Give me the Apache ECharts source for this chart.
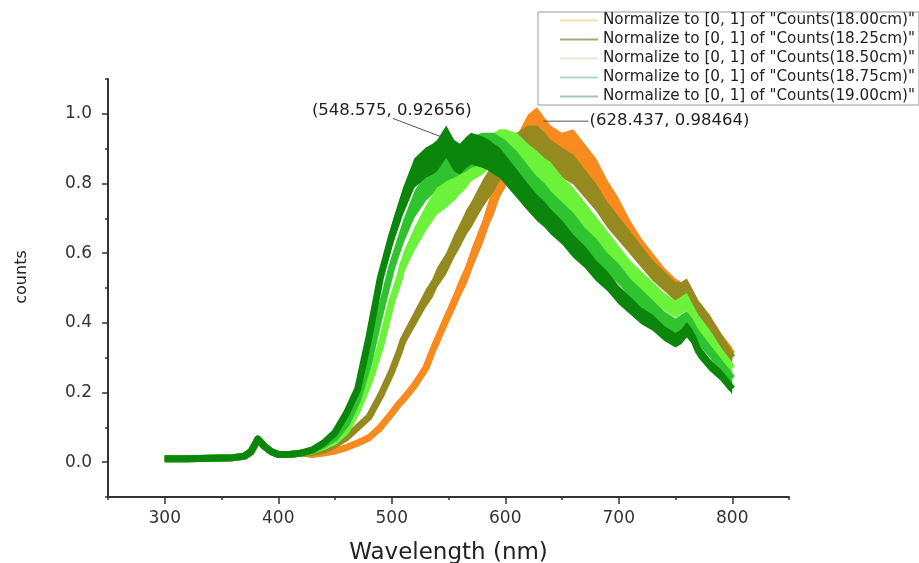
<!DOCTYPE html>
<html>
<head>
<meta charset="utf-8">
<script src="https://cdn.jsdelivr.net/npm/echarts@6.0.0/dist/echarts.min.js"></script>
<style>
html,body{margin:0;padding:0;background:#fff;}
#chart{width:919px;height:563px;}
</style>
</head>
<body>
<div id="chart"></div>
<script>
// ---- data ----
const wavelengths = [300,320,340,360,370,376,382,388,394,400,410,420,430,440,450,460,470,480,490,500,507,510,520,530,536,540,548,555,560,566,570,580,586,590,595,600,610,620,628,635,640,650,660,670,680,690,700,710,720,730,740,750,755,760,765,770,780,790,800];

const counts1800 = [0.010,0.010,0.011,0.013,0.017,0.030,0.066,0.045,0.030,0.022,0.022,0.026,
  0.022,0.026,0.032,0.042,0.055,0.07,0.10,0.14,0.17,0.18,0.22,0.27,0.32,0.35,0.41,0.46,0.50,0.54,0.58,0.66,0.72,0.75,0.80,0.83,0.89,0.95,0.97,0.94,0.92,0.90,0.91,0.87,0.83,0.77,0.72,0.66,0.61,0.57,0.53,0.50,0.49,0.49,0.47,0.44,0.40,0.35,0.31];
const counts1825 = [0.010,0.010,0.011,0.013,0.017,0.030,0.066,0.045,0.030,0.022,0.022,0.026,
  0.028,0.035,0.05,0.07,0.10,0.13,0.19,0.26,0.32,0.35,0.41,0.47,0.50,0.53,0.57,0.62,0.65,0.69,0.71,0.77,0.80,0.82,0.85,0.87,0.90,0.92,0.92,0.90,0.88,0.86,0.84,0.80,0.76,0.71,0.67,0.63,0.59,0.55,0.52,0.49,0.49,0.50,0.47,0.44,0.40,0.35,0.30];
const counts1850 = [0.010,0.010,0.011,0.013,0.017,0.030,0.066,0.045,0.030,0.022,0.022,0.026,
  0.032,0.045,0.06,0.09,0.15,0.23,0.33,0.46,0.53,0.57,0.64,0.70,0.73,0.75,0.77,0.79,0.81,0.83,0.85,0.87,0.89,0.90,0.91,0.91,0.90,0.87,0.85,0.83,0.82,0.78,0.75,0.71,0.67,0.63,0.59,0.55,0.52,0.49,0.46,0.44,0.45,0.46,0.43,0.40,0.36,0.31,0.27];
const counts1875 = [0.010,0.010,0.011,0.013,0.017,0.030,0.066,0.045,0.030,0.022,0.022,0.026,
  0.033,0.05,0.07,0.11,0.18,0.29,0.43,0.56,0.63,0.66,0.74,0.79,0.81,0.83,0.85,0.86,0.87,0.88,0.89,0.90,0.90,0.90,0.89,0.88,0.85,0.81,0.78,0.76,0.74,0.71,0.68,0.64,0.61,0.57,0.54,0.50,0.47,0.44,0.41,0.39,0.40,0.41,0.39,0.36,0.32,0.28,0.24];
const counts1900 = [0.010,0.010,0.011,0.013,0.017,0.030,0.066,0.045,0.030,0.022,0.022,0.026,
  0.035,0.055,0.085,0.14,0.21,0.36,0.53,0.65,0.72,0.75,0.83,0.86,0.87,0.88,0.92,0.88,0.87,0.89,0.90,0.89,0.88,0.87,0.86,0.84,0.80,0.76,0.73,0.71,0.69,0.66,0.62,0.59,0.55,0.52,0.48,0.45,0.42,0.40,0.37,0.35,0.36,0.38,0.36,0.32,0.28,0.25,0.21];

const seriesNames = [
  'Normalize to [0, 1] of "Counts(18.00cm)"',
  'Normalize to [0, 1] of "Counts(18.25cm)"',
  'Normalize to [0, 1] of "Counts(18.50cm)"',
  'Normalize to [0, 1] of "Counts(18.75cm)"',
  'Normalize to [0, 1] of "Counts(19.00cm)"'
];
const seriesValues = [counts1800, counts1825, counts1850, counts1875, counts1900];

const xMajorTicks = [300,400,500,600,700,800];
const xMinorTicks = [250,350,450,550,650,750,850];
const yMajorTicks = [0,0.2,0.4,0.6,0.8,1.0];
const yMinorTicks = [-0.1,0.1,0.3,0.5,0.7,0.9,1.1];

const annotX = [548.575, 628.437];
const annotY = [0.92656, 0.98464];
const annotText = ['(548.575, 0.92656)', '(628.437, 0.98464)'];

// ---- styles ----
const curveColors = ['#f88a1e', '#948a20', '#6cf23a', '#2fc42f', '#0b850b'];
const legendColors = ['#f2e4b0', '#a9a67c', '#e4ead0', '#aedcc8', '#a2c4c2'];
const FONT = 'DejaVu Sans';

function bandSeries(idx) {
  const ys = seriesValues[idx];
  const color = curveColors[idx];
  return {
    type: 'custom',
    name: seriesNames[idx],
    coordinateSystem: 'cartesian2d',
    xAxisIndex: 0, yAxisIndex: 0,
    itemStyle: {color: color},
    data: [[wavelengths[0], ys[0]]],
    renderItem: function (params, api) {
      const upper = [], lower = [], mid = [];
      for (let i = 0; i < wavelengths.length; i++) {
        const y = ys[i];
        const h = 0.005 + 0.045 * y; // visual noise band half-height
        upper.push(api.coord([wavelengths[i], y + h]));
        lower.push(api.coord([wavelengths[i], y - h]));
        mid.push(api.coord([wavelengths[i], y]));
      }
      return {
        type: 'group',
        children: [
          {type: 'polygon', shape: {points: upper.concat(lower.reverse())}, style: {fill: color}},
          {type: 'polyline', shape: {points: mid}, style: {stroke: color, lineWidth: 7, fill: null, lineJoin: 'round'}}
        ]
      };
    }
  };
}

const chart = echarts.init(document.getElementById('chart'), null, {renderer: 'canvas'});
const axisColor = '#333';

chart.setOption({
  animation: false,
  backgroundColor: '#fff',
  textStyle: {fontFamily: FONT},
  grid: {left: 108, right: 130, top: 79, bottom: 66, containLabel: false, outerBoundsMode: 'none'},
  legend: {
    orient: 'vertical',
    left: 538, top: 12,
    padding: [1, 4, 1, 22],
    itemGap: 4,
    itemWidth: 38, itemHeight: 2,
    borderColor: '#999', borderWidth: 1,
    textStyle: {fontFamily: FONT, fontSize: 15.2, color: '#222', lineHeight: 15},
    data: seriesNames.map((n, i) => ({name: n, icon: 'rect', itemStyle: {color: legendColors[i]}}))
  },
  xAxis: [{
    type: 'value', min: 250, max: 850, interval: 50, position: 'bottom',
    axisLine: {show: true, onZero: false, lineStyle: {color: axisColor, width: 2}},
    axisTick: {show: true, customValues: xMajorTicks, length: 7, inside: false, lineStyle: {color: axisColor, width: 1.5}},
    axisLabel: {customValues: xMajorTicks, fontFamily: FONT, fontSize: 17, color: '#333', margin: 13},
    splitLine: {show: false},
    name: 'Wavelength (nm)', nameLocation: 'middle', nameGap: 45,
    nameTextStyle: {fontFamily: FONT, fontSize: 23, color: '#222'}
  }, {
    type: 'value', min: 250, max: 850, interval: 50, position: 'bottom',
    axisLine: {show: false, onZero: false},
    axisTick: {show: true, customValues: xMinorTicks, length: 3, lineStyle: {color: axisColor, width: 1.5}},
    axisLabel: {show: false},
    splitLine: {show: false}
  }],
  yAxis: [{
    type: 'value', min: -0.1, max: 1.1, interval: 0.1, position: 'left',
    axisLine: {show: true, onZero: false, lineStyle: {color: axisColor, width: 2}},
    axisTick: {show: true, customValues: yMajorTicks, length: 6, lineStyle: {color: axisColor, width: 1.5}},
    axisLabel: {customValues: yMajorTicks, fontFamily: FONT, fontSize: 17, color: '#333', margin: 16,
      formatter: v => Number(v).toFixed(1)},
    splitLine: {show: false},
    name: 'counts', nameLocation: 'middle', nameGap: 78, nameRotate: 90,
    nameTextStyle: {fontFamily: FONT, fontSize: 16, color: '#222', padding: [0, 0, 0, 22]}
  }, {
    type: 'value', min: -0.1, max: 1.1, interval: 0.1, position: 'left',
    axisLine: {show: false, onZero: false},
    axisTick: {show: true, customValues: yMinorTicks, length: 3, lineStyle: {color: axisColor, width: 1.5}},
    axisLabel: {show: false},
    splitLine: {show: false}
  }],
  series: [0, 1, 2, 3, 4].map(bandSeries)
});

// annotations placed at their data points via the chart's own scale
const p1 = chart.convertToPixel({gridIndex: 0}, [annotX[0], annotY[0]]);
const p2 = chart.convertToPixel({gridIndex: 0}, [annotX[1], annotY[1]]);
chart.setOption({
  graphic: [
    {type: 'line', z: 100, shape: {x1: p1[0] - 4, y1: p1[1] - 2, x2: p1[0] - 54, y2: p1[1] - 21}, style: {stroke: '#555', lineWidth: 1}},
    {type: 'text', z: 100, x: p1[0] - 135, y: p1[1] - 29, style: {text: annotText[0], fill: '#222', font: '16.5px "DejaVu Sans"', textVerticalAlign: 'middle', verticalAlign: 'middle'}},
    {type: 'line', z: 100, shape: {x1: p2[0] + 6, y1: p2[1] + 2, x2: p2[0] + 51, y2: p2[1] + 2}, style: {stroke: '#555', lineWidth: 1}},
    {type: 'text', z: 100, x: p2[0] + 52, y: p2[1] + 2, style: {text: annotText[1], fill: '#222', font: '16.5px "DejaVu Sans"', textVerticalAlign: 'middle', verticalAlign: 'middle'}}
  ]
});
</script>
</body>
</html>
